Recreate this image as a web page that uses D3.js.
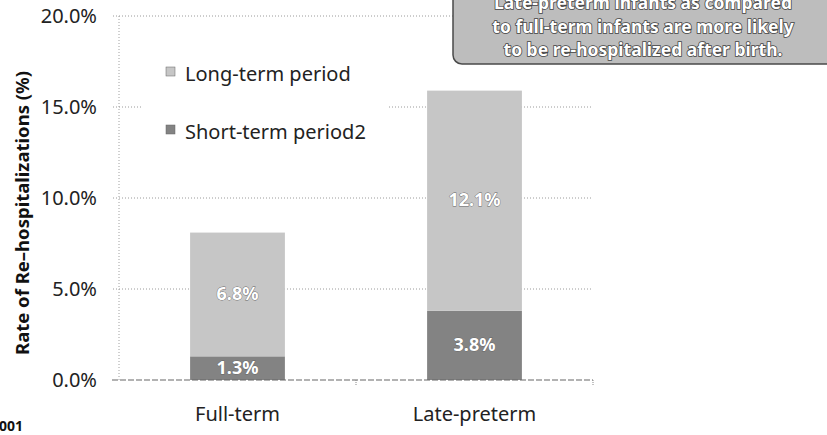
<!DOCTYPE html>
<html>
<head>
<meta charset="utf-8">
<script src="https://cdn.jsdelivr.net/npm/d3@7"></script>
<style>
  body { margin: 0; background: #fff; }
  svg { display: block; font-family: "Noto Sans", "Open Sans", sans-serif; }
</style>
</head>
<body>
<svg id="chart"></svg>
<script>
// values
const categories = ["Full-term", "Late-preterm"];
const shortTerm = [1.3, 3.8];
const longTerm = [6.8, 12.1];
const seriesNames = ["Long-term period", "Short-term period2"];
const yTicks = [0, 5, 10, 15, 20];
const calloutLines = [
  "Late-preterm infants as compared",
  "to full-term infants are more likely",
  "to be re-hospitalized after birth."
];

const width = 827, height = 435;
const margin = {top: 16, right: 234, bottom: 55, left: 119};

const svg = d3.select("#chart")
    .attr("width", width)
    .attr("height", height);

const x = d3.scaleBand()
    .domain(categories)
    .range([margin.left, width - margin.right])
    .paddingInner(0.6)
    .paddingOuter(0.3);

const y = d3.scaleLinear()
    .domain([0, 20])
    .range([height - margin.bottom, margin.top]);

const rows = categories.map((c, i) => ({cat: c, short: shortTerm[i], long: longTerm[i]}));
const stack = d3.stack().keys(["short", "long"]);
const layers = stack(rows);
const colors = {short: "#838383", long: "#c6c6c6"};

// gridlines
svg.append("g")
  .selectAll("line")
  .data(yTicks.filter(d => d > 0))
  .join("line")
    .attr("x1", margin.left - 6)
    .attr("x2", width - margin.right)
    .attr("y1", d => y(d))
    .attr("y2", d => y(d))
    .attr("stroke", "#9a9a9a")
    .attr("stroke-dasharray", "1,2");

// left axis line (dotted)
svg.append("line")
    .attr("x1", margin.left).attr("x2", margin.left)
    .attr("y1", y(20)).attr("y2", y(0))
    .attr("stroke", "#a0a0a0")
    .attr("stroke-dasharray", "1,2");

// legend box (white, hides gridline behind)
const legend = svg.append("g");
legend.append("rect")
    .attr("x", 143).attr("y", 40)
    .attr("width", 244).attr("height", 120)
    .attr("fill", "#fff");
const legendItems = [
  {name: seriesNames[0], key: "long", y: 81},
  {name: seriesNames[1], key: "short", y: 139}
];
legend.selectAll("rect.sw")
  .data(legendItems)
  .join("rect")
    .attr("class", "sw")
    .attr("x", 166)
    .attr("y", d => d.y - 14)
    .attr("width", 9).attr("height", 9)
    .attr("fill", d => colors[d.key])
    .attr("stroke", "#666")
    .attr("stroke-width", 0.5);
legend.selectAll("text")
  .data(legendItems)
  .join("text")
    .attr("x", 185)
    .attr("y", d => d.y)
    .attr("font-size", 20)
    .attr("fill", "#222")
    .text(d => d.name);

// bars
svg.append("g")
  .selectAll("g")
  .data(layers)
  .join("g")
    .attr("fill", d => colors[d.key])
  .selectAll("rect")
  .data(d => d)
  .join("rect")
    .attr("x", d => x(d.data.cat))
    .attr("y", d => y(d[1]))
    .attr("width", x.bandwidth())
    .attr("height", d => y(d[0]) - y(d[1]));

// value labels
svg.append("g")
    .attr("font-size", 18)
    .attr("font-weight", "bold")
    .attr("text-anchor", "middle")
    .attr("fill", "#fff")
    .attr("stroke", "#666")
    .attr("stroke-width", 0.8)
    .attr("paint-order", "stroke")
  .selectAll("g")
  .data(layers)
  .join("g")
  .selectAll("text")
  .data(d => d)
  .join("text")
    .attr("x", d => x(d.data.cat) + x.bandwidth() / 2)
    .attr("y", d => (y(d[0]) + y(d[1])) / 2)
    .attr("dy", "0.3em")
    .text(d => (d[1] - d[0]).toFixed(1) + "%");

// baseline
svg.append("line")
    .attr("x1", margin.left - 7).attr("x2", width - margin.right)
    .attr("y1", y(0)).attr("y2", y(0))
    .attr("stroke", "#666")
    .attr("stroke-width", 1.2)
    .attr("stroke-dasharray", "6,2");

// category separator ticks below baseline
svg.append("g")
  .selectAll("line")
  .data([x.range()[0] + x.step(), x.range()[1]])
  .join("line")
    .attr("x1", d => d).attr("x2", d => d)
    .attr("y1", y(0)).attr("y2", y(0) + 6)
    .attr("stroke", "#888")
    .attr("stroke-dasharray", "1,1");

// y tick labels
svg.append("g")
    .attr("font-size", 20)
    .attr("text-anchor", "end")
    .attr("fill", "#222")
  .selectAll("text")
  .data(yTicks)
  .join("text")
    .attr("x", 97)
    .attr("y", d => y(d))
    .attr("dy", "0.36em")
    .text(d => d.toFixed(1) + "%");

// category labels
svg.append("g")
    .attr("font-size", 20)
    .attr("text-anchor", "middle")
    .attr("fill", "#222")
  .selectAll("text")
  .data(categories)
  .join("text")
    .attr("x", d => x(d) + x.bandwidth() / 2)
    .attr("y", 421)
    .text(d => d);

// y axis title
svg.append("text")
    .attr("transform", `translate(29,${(y(0) + y(20)) / 2 + 15}) rotate(-90)`)
    .attr("text-anchor", "middle")
    .attr("font-size", 18.5)
    .attr("font-weight", "bold")
    .attr("fill", "#111")
    .text("Rate of Re\u2013hospitalizations (%)");

// cropped footnote fragment
svg.append("text")
    .attr("x", -1)
    .attr("y", 431)
    .attr("font-size", 14)
    .attr("font-weight", "bold")
    .attr("fill", "#111")
    .text("001");

// callout box
const callout = svg.append("g");
callout.append("rect")
    .attr("x", 453).attr("y", -20)
    .attr("width", 400).attr("height", 84)
    .attr("rx", 9)
    .attr("fill", "#bdbdbd")
    .attr("stroke", "#4a4a4a")
    .attr("stroke-width", 1.5);
callout.selectAll("text")
  .data(calloutLines)
  .join("text")
    .attr("x", 643)
    .attr("y", (d, i) => 9 + i * 23.5)
    .attr("text-anchor", "middle")
    .attr("font-size", 17.5)
    .attr("font-weight", "bold")
    .attr("fill", "#fff")
    .attr("stroke", "#444")
    .attr("stroke-width", 1.6)
    .attr("paint-order", "stroke")
    .text(d => d);
</script>
</body>
</html>
